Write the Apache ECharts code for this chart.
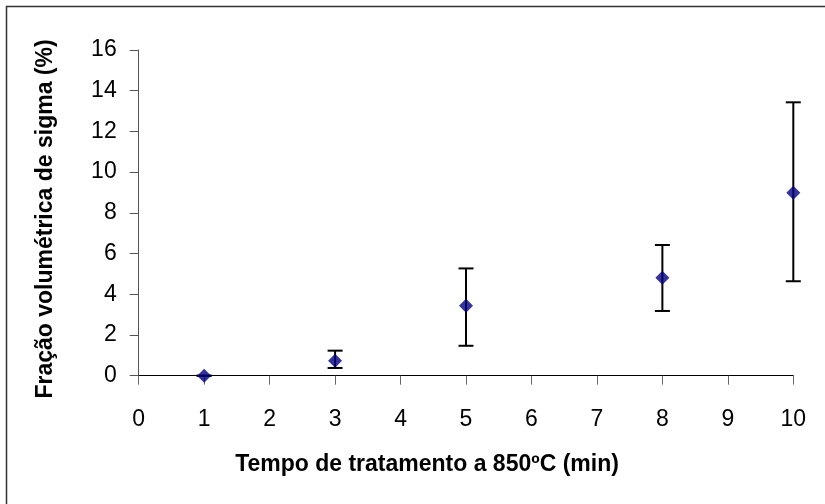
<!DOCTYPE html>
<html>
<head>
<meta charset="utf-8">
<script src="https://cdn.jsdelivr.net/npm/echarts@6/dist/echarts.min.js"></script>
<style>
  html, body { margin: 0; padding: 0; background: #fff; }
  #chart { width: 825px; height: 504px; }
</style>
</head>
<body>
<div id="chart"></div>
<script>
// Treatment time at 850 ºC (min)
const tempos = [1, 3, 5, 8, 10];
// Mean sigma volume fraction (%)
const fracao = [0, 0.74, 3.44, 4.81, 8.99];
// Lower and upper ends of the error bars (%)
const erroInferior = [0, 0.38, 1.47, 3.18, 4.64];
const erroSuperior = [0, 1.23, 5.27, 6.42, 13.43];
// Axis tick values
const ticksX = [0, 1, 2, 3, 4, 5, 6, 7, 8, 9, 10];
const ticksY = [0, 2, 4, 6, 8, 10, 12, 14, 16];

const pontos = tempos.map((t, i) => [t, fracao[i]]);
const barras = tempos.map((t, i) => [t, erroInferior[i], erroSuperior[i]]);

const fonte = '"Liberation Sans", Arial, sans-serif';
const chart = echarts.init(document.getElementById('chart'));

chart.setOption({
  animation: false,
  backgroundColor: '#ffffff',
  grid: { left: 138.7, right: 31.7, top: 50, bottom: 128.3 },
  xAxis: {
    type: 'value',
    min: ticksX[0],
    max: ticksX[ticksX.length - 1],
    interval: 1,
    axisLine: { show: true, onZero: false, lineStyle: { color: '#000', width: 1 } },
    axisTick: { show: true, inside: false, length: 9, lineStyle: { color: '#666', width: 1 } },
    axisLabel: { margin: 32, fontSize: 23, color: '#000', fontFamily: fonte },
    splitLine: { show: false }
  },
  yAxis: {
    type: 'value',
    min: ticksY[0],
    max: ticksY[ticksY.length - 1],
    interval: 2,
    axisLine: { show: true, onZero: false, lineStyle: { color: '#555', width: 1 } },
    axisTick: { show: true, inside: false, length: 9, lineStyle: { color: '#555', width: 1 } },
    axisLabel: { margin: 22, fontSize: 23, color: '#000', fontFamily: fonte },
    splitLine: { show: false }
  },
  graphic: [
    {
      type: 'rect',
      shape: { x: 6.5, y: 6.5, width: 830, height: 510 },
      style: { fill: 'none', stroke: '#333', lineWidth: 1.5 },
      silent: true
    },
    {
      type: 'text',
      x: 427, y: 465,
      style: {
        text: 'Tempo de tratamento a 850ºC (min)',
        font: 'bold 23px ' + fonte,
        fill: '#000',
        align: 'center',
        verticalAlign: 'middle'
      }
    },
    {
      type: 'text',
      x: 46, y: 219,
      rotation: Math.PI / 2,
      style: {
        text: 'Fração volumétrica de sigma (%)',
        font: 'bold 23px ' + fonte,
        fill: '#000',
        align: 'center',
        verticalAlign: 'middle'
      }
    }
  ],
  series: [
    {
      type: 'custom',
      name: 'erro',
      data: barras,
      z: 2,
      renderItem: function (params, api) {
        const x = api.value(0);
        const pLo = api.coord([x, api.value(1)]);
        const pHi = api.coord([x, api.value(2)]);
        const half = 7.5;
        const style = { stroke: '#000', lineWidth: 2 };
        return {
          type: 'group',
          children: [
            { type: 'line', shape: { x1: pLo[0], y1: pLo[1], x2: pHi[0], y2: pHi[1] }, style: style },
            { type: 'line', shape: { x1: pHi[0] - half, y1: pHi[1], x2: pHi[0] + half, y2: pHi[1] }, style: style },
            { type: 'line', shape: { x1: pLo[0] - half, y1: pLo[1], x2: pLo[0] + half, y2: pLo[1] }, style: style }
          ]
        };
      }
    },
    {
      type: 'scatter',
      name: 'fração',
      data: pontos,
      symbol: 'diamond',
      symbolSize: [14, 14],
      z: 3,
      itemStyle: { color: '#000080' }
    }
  ]
});
</script>
</body>
</html>
